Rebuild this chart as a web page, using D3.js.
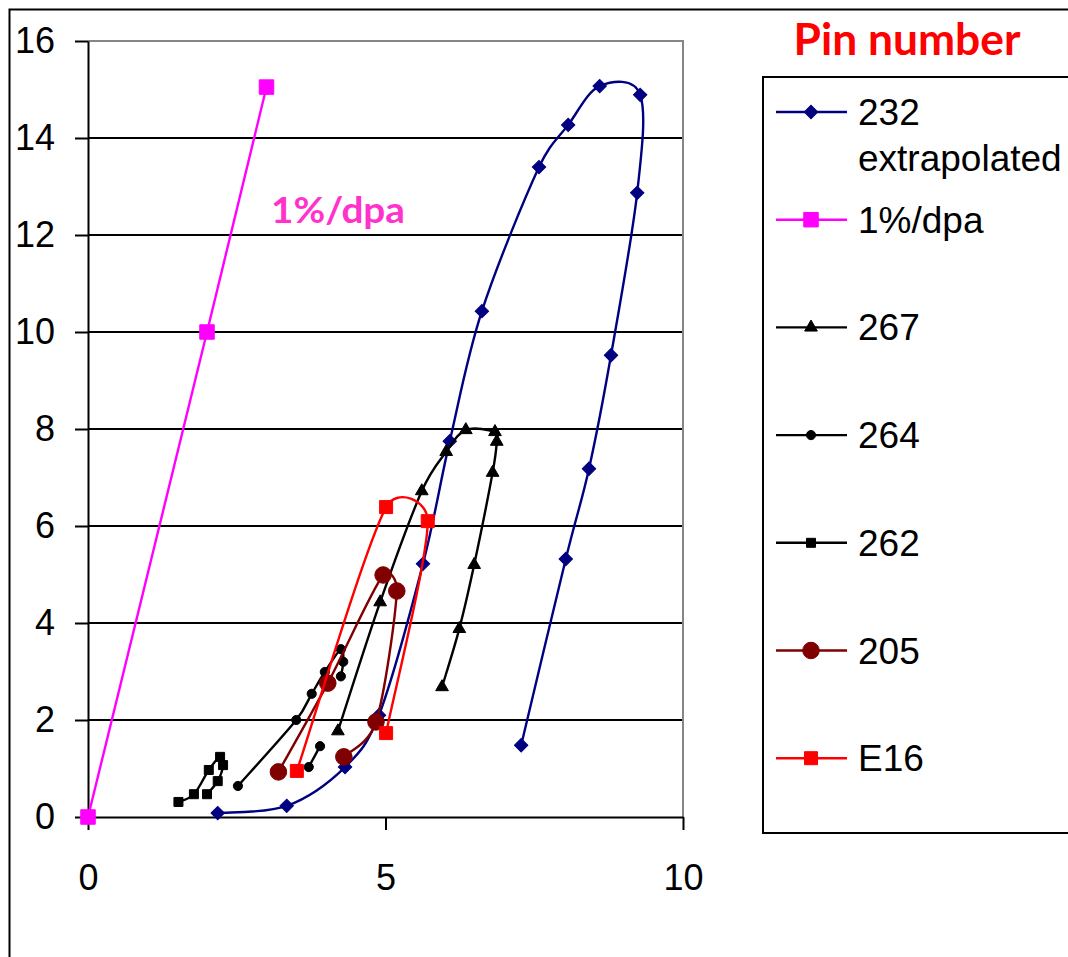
<!DOCTYPE html>
<html>
<head>
<meta charset="utf-8">
<script src="https://cdnjs.cloudflare.com/ajax/libs/d3/7.8.5/d3.min.js"></script>
<style>
  body { margin: 0; background: #fff; }
  svg { display: block; }
</style>
</head>
<body>
<script>
// Axis ticks
const xTicks = [0, 5, 10];
const yTicks = [0, 2, 4, 6, 8, 10, 12, 14, 16];

// Series data: [x, y] pairs in plotting order (null marks a break in the line)
const pin232 = [[2.18,0.08],[3.34,0.23],[4.32,1.03],[4.89,2.10],[5.63,5.22],[6.08,7.75],[6.62,10.43],
                [7.58,13.40],[8.07,14.27],[8.60,15.07],[9.28,14.89],[9.23,12.87],[8.79,9.52],
                [8.42,7.18],[8.03,5.32],[7.28,1.48]];
const dpa1 = [[0,0],[2,10],[3,15.05]];
const pin267 = [[4.20,1.77],[4.91,4.43],[5.61,6.72],[6.02,7.53],[6.35,7.98],[6.84,7.94],[6.87,7.74],
                [6.80,7.10],[6.49,5.20],[6.24,3.88],[5.95,2.68]];
const pin264 = [[2.52,0.64],[3.50,2.00],[3.76,2.54],[3.98,2.99],[4.25,3.46],[4.29,3.20],[4.25,2.90],
                null,[3.71,1.03],[3.90,1.46]];
const pin262 = [[1.52,0.31],[1.78,0.47],[2.03,0.97],[2.22,1.24],[2.27,1.07],[2.18,0.74],[2.00,0.47]];
const pin205 = [[3.20,0.93],[4.03,2.76],[4.96,4.99],[5.19,4.66],[4.84,1.96],[4.30,1.24]];
const pinE16 = [[3.51,0.95],[5.01,6.39],[5.71,6.10],[5.01,1.73]];

const seriesLabels = [["232", "extrapolated"], ["1%/dpa"], ["267"], ["264"], ["262"], ["205"], ["E16"]];
const seriesData = [pin232, dpa1, pin267, pin264, pin262, pin205, pinE16];

// Per-series styling
const styles = [
  { color: "#000080", shape: "diamond", size: 90,  smooth: true },
  { color: "#FF00FF", shape: "square",  size: 210, smooth: false },
  { color: "#000000", shape: "triangle",size: 70,  smooth: true },
  { color: "#000000", shape: "circle",  size: 66,  smooth: true },
  { color: "#000000", shape: "square",  size: 81,  smooth: true },
  { color: "#800000", shape: "circle",  size: 215, smooth: true },
  { color: "#FF0000", shape: "square",  size: 169, smooth: true }
];

const W = 1068, H = 957;
const FONT = "'Liberation Sans', Arial, sans-serif";

const svg = d3.select("body").append("svg").attr("width", W).attr("height", H);

const x = d3.scaleLinear().domain([0, 10]).range([88, 683]);
const y = d3.scaleLinear().domain([0, 16]).range([817, 41]);

// Outer chart frame
svg.append("rect").attr("x", 9.5).attr("y", 9.5).attr("width", 1200).attr("height", 1100)
  .attr("fill", "none").attr("stroke", "#000").attr("stroke-width", 2);

// Horizontal gridlines
svg.append("g").selectAll("line").data(yTicks.filter(v => v > 0 && v < 16)).join("line")
  .attr("x1", x(0)).attr("x2", x(10))
  .attr("y1", d => y(d)).attr("y2", d => y(d))
  .attr("stroke", "#000").attr("stroke-width", 2);

// Plot area border (top and right)
svg.append("path")
  .attr("d", `M${x(0)},${y(16)}H${x(10)}V${y(0)}`)
  .attr("fill", "none").attr("stroke", "#868686").attr("stroke-width", 2);

// Axes
const yAxis = d3.axisLeft(y).tickValues(yTicks).tickSize(13).tickSizeOuter(0).tickPadding(20);
const xAxis = d3.axisBottom(x).tickValues(xTicks).tickSize(13).tickSizeOuter(0).tickPadding(34);

const gy = svg.append("g").attr("transform", `translate(${x(0)},0)`).call(yAxis);
const gx = svg.append("g").attr("transform", `translate(0,${y(0)})`).call(xAxis);
[gx, gy].forEach(g => {
  g.select(".domain").attr("stroke", "#000").attr("stroke-width", 2);
  g.selectAll(".tick line").attr("stroke", "#000").attr("stroke-width", 2);
  g.selectAll(".tick text").attr("fill", "#000")
    .style("font-family", FONT).style("font-size", "36px");
});

// Smoothed line through points (Bezier with neighbour-based control points)
function dist(a, b) { return Math.hypot(b[0] - a[0], b[1] - a[1]); }
function smoothPath(pts) {
  let d = `M${pts[0][0]},${pts[0][1]}`;
  for (let i = 0; i < pts.length - 1; i++) {
    const p0 = pts[Math.max(i - 1, 0)], p1 = pts[i], p2 = pts[i + 1],
          p3 = pts[Math.min(i + 2, pts.length - 1)];
    const d12 = dist(p1, p2), d02 = dist(p0, p2), d13 = dist(p1, p3);
    const f0 = (d02 > 0 && d02 / 6 >= d12 / 2) ? d12 / 2 / d02 : 1 / 6;
    const f1 = (d13 > 0 && d13 / 6 >= d12 / 2) ? d12 / 2 / d13 : 1 / 6;
    const c1 = [p1[0] + (p2[0] - p0[0]) * f0, p1[1] + (p2[1] - p0[1]) * f0];
    const c2 = [p2[0] - (p3[0] - p1[0]) * f1, p2[1] - (p3[1] - p1[1]) * f1];
    d += `C${c1[0]},${c1[1]} ${c2[0]},${c2[1]} ${p2[0]},${p2[1]}`;
  }
  return d;
}
function straightPath(pts) {
  return d3.line()(pts);
}

// Split at null gaps and convert to pixels
function segments(data) {
  const segs = [];
  let cur = [];
  data.forEach(d => {
    if (d === null) { if (cur.length) segs.push(cur); cur = []; }
    else cur.push([x(d[0]), y(d[1])]);
  });
  if (cur.length) segs.push(cur);
  return segs;
}

function symbolPath(shape, size) {
  const type = { diamond: d3.symbolSquare, square: d3.symbolSquare,
                 triangle: d3.symbolTriangle, circle: d3.symbolCircle }[shape];
  return d3.symbol().type(type).size(size)();
}
function markerTransform(shape, px, py) {
  return shape === "diamond" ? `translate(${px},${py}) rotate(45)` : `translate(${px},${py})`;
}

// Series lines and markers
const plot = svg.append("g");
seriesData.forEach((data, i) => {
  const st = styles[i];
  const g = plot.append("g");
  segments(data).forEach(seg => {
    g.append("path")
      .attr("d", st.smooth ? smoothPath(seg) : straightPath(seg))
      .attr("fill", "none").attr("stroke", st.color).attr("stroke-width", 2.4)
      .attr("stroke-linejoin", "round");
  });
  g.selectAll("path.mk").data(data.filter(d => d !== null)).join("path")
    .attr("class", "mk")
    .attr("d", symbolPath(st.shape, st.size))
    .attr("transform", d => markerTransform(st.shape, x(d[0]), y(d[1])))
    .attr("fill", st.color).attr("stroke", st.color).attr("stroke-width", 1);
});

// Annotation inside the plot
svg.append("text").attr("x", 338).attr("y", 223).attr("text-anchor", "middle")
  .attr("textLength", 134).attr("lengthAdjust", "spacingAndGlyphs")
  .style("font-family", "Lato, 'Open Sans', sans-serif").style("font-weight", "bold")
  .style("font-size", "36px").attr("fill", "#FF33CC").text("1%/dpa");

// Legend title
svg.append("text").attr("x", 907).attr("y", 55).attr("text-anchor", "middle")
  .attr("textLength", 227).attr("lengthAdjust", "spacingAndGlyphs")
  .style("font-family", "Lato, 'Open Sans', sans-serif").style("font-weight", "bold")
  .style("font-size", "43px").attr("fill", "#FF0000").text("Pin number");

// Legend box and entries
svg.append("rect").attr("x", 763).attr("y", 77).attr("width", 400).attr("height", 756)
  .attr("fill", "#fff").attr("stroke", "#000").attr("stroke-width", 2);

const legend = svg.append("g");
seriesLabels.forEach((lab, i) => {
  const st = styles[i];
  const ly = 112 + i * 107.7;
  legend.append("line").attr("x1", 776).attr("x2", 847).attr("y1", ly).attr("y2", ly)
    .attr("stroke", st.color).attr("stroke-width", 2.4);
  legend.append("path").attr("d", symbolPath(st.shape, st.size))
    .attr("transform", markerTransform(st.shape, 811, ly))
    .attr("fill", st.color).attr("stroke", st.color).attr("stroke-width", 1);
  const t = legend.append("text").attr("x", 858).attr("y", ly + 13)
    .style("font-family", FONT).style("font-size", "37px").attr("fill", "#000");
  lab.forEach((s, k) => {
    t.append("tspan").attr("x", 858).attr("dy", k === 0 ? 0 : 46).text(s);
  });
});
</script>
</body>
</html>
